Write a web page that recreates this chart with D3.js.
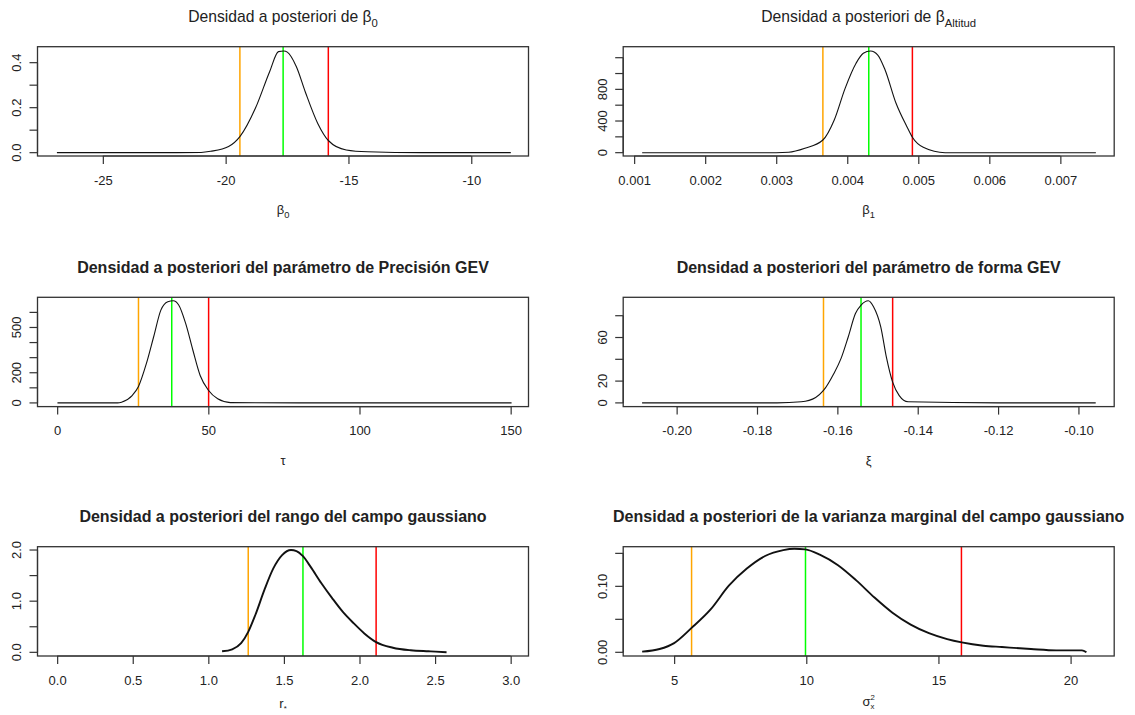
<!DOCTYPE html>
<html>
<head>
<meta charset="utf-8">
<script src="https://cdn.jsdelivr.net/npm/d3@7"></script>
<style>
  body { margin: 0; background: #fff; }
  text { font-family: "Liberation Sans", Arial, sans-serif; fill: #222; }
</style>
</head>
<body>
<div id="chart"></div>
<script>
// beta0
let b0X = [-26.87, -24, -22, -21, -20.61, -19.88, -19.42, -18.79, -18.21, -17.85, -17.63, -17.49, -17.12, -16.76, -16.25, -15.81, -15.09, -14.22, -12, -10, -8.39];
let b0Y = [0, 0, 0, 0.001, 0.006, 0.027, 0.071, 0.197, 0.36, 0.449, 0.452, 0.447, 0.382, 0.271, 0.13, 0.053, 0.012, 0.004, 0, 0, 0];
let b0Lines = [-19.42, -17.66, -15.82];

// beta altitud
let b1X = [0.001113, 0.002, 0.003, 0.003175, 0.003404, 0.003657, 0.003817, 0.00397, 0.004124, 0.004226, 0.004328, 0.00443, 0.004533, 0.004687, 0.00484, 0.004917, 0.00507, 0.005378, 0.006, 0.0075];
let b1Y = [0, 0, 0, 5, 56, 160, 413, 813, 1130, 1256, 1285, 1234, 1045, 624, 328, 195, 68, 0, 0, 0];
let b1Lines = [0.003657, 0.004303, 0.004917];

// precision GEV (tau)
let tauX = [0.1, 10, 20, 21.3, 24.8, 26.9, 29.5, 31.9, 34.3, 36.6, 38.4, 40.2, 42.5, 44.9, 47.3, 50.1, 53.1, 57.3, 80, 120, 150.3];
let tauY = [0, 0, 0, 5, 49, 109, 260, 437, 615, 671, 677, 649, 527, 349, 182, 82, 27, 2, 0, 0, 0];
let tauLines = [26.9, 37.9, 50.1];

// forma GEV (xi)
let xiX = [-0.2086, -0.19, -0.175, -0.169, -0.1654, -0.16345, -0.1609, -0.1591, -0.1573, -0.1555, -0.1541, -0.1523, -0.151, -0.1492, -0.1478, -0.14624, -0.1446, -0.1424, -0.12, -0.0957];
let xiY = [0, 0, 0, 1, 5, 11.4, 26.8, 40.6, 60.5, 82, 89.8, 93.8, 88.3, 69.8, 42, 19, 6.7, 1, 0, 0];
let xiLines = [-0.16345, -0.15411, -0.14624];

// rango
let rX = [1.091, 1.158, 1.217, 1.264, 1.311, 1.371, 1.43, 1.488, 1.547, 1.583, 1.626, 1.677, 1.748, 1.819, 1.89, 1.961, 2.032, 2.11, 2.221, 2.339, 2.457, 2.504, 2.576];
let rY = [0.02, 0.06, 0.18, 0.40, 0.73, 1.22, 1.64, 1.90, 2.0, 1.98, 1.88, 1.67, 1.35, 1.06, 0.79, 0.57, 0.37, 0.20, 0.09, 0.04, 0.02, 0.013, 0];
let rLines = [1.264, 1.626, 2.110];

// varianza marginal
let sX = [3.79, 4.45, 5.0, 5.66, 6.38, 7.07, 7.75, 8.44, 9.13, 9.55, 9.96, 10.51, 11.2, 11.89, 12.58, 13.26, 13.95, 14.64, 15.33, 15.88, 16.7, 17.4, 18.5, 19.46, 20.43, 20.6];
let sY = [0.001, 0.005, 0.014, 0.037, 0.065, 0.101, 0.127, 0.146, 0.155, 0.157, 0.156, 0.148, 0.132, 0.109, 0.083, 0.060, 0.042, 0.029, 0.020, 0.015, 0.010, 0.008, 0.005, 0.003, 0.003, 0.0];
let sLines = [5.66, 9.97, 15.87];

// ticks
let b0XTicks = [-25, -20, -15, -10];
let b0XLabels = ["-25", "-20", "-15", "-10"];
let b0YTicks = [0, 0.1, 0.2, 0.3, 0.4];
let b0YLabels = ["0.0", "", "0.2", "", "0.4"];

let b1XTicks = [0.001, 0.002, 0.003, 0.004, 0.005, 0.006, 0.007];
let b1XLabels = ["0.001", "0.002", "0.003", "0.004", "0.005", "0.006", "0.007"];
let b1YTicks = [0, 200, 400, 600, 800, 1000, 1200];
let b1YLabels = ["0", "", "400", "", "800", "", ""];

let tauXTicks = [0, 50, 100, 150];
let tauXLabels = ["0", "50", "100", "150"];
let tauYTicks = [0, 100, 200, 300, 400, 500, 600];
let tauYLabels = ["0", "", "200", "", "", "500", ""];

let xiXTicks = [-0.20, -0.18, -0.16, -0.14, -0.12, -0.10];
let xiXLabels = ["-0.20", "-0.18", "-0.16", "-0.14", "-0.12", "-0.10"];
let xiYTicks = [0, 20, 40, 60, 80];
let xiYLabels = ["0", "20", "", "60", ""];

let rXTicks = [0, 0.5, 1, 1.5, 2, 2.5, 3];
let rXLabels = ["0.0", "0.5", "1.0", "1.5", "2.0", "2.5", "3.0"];
let rYTicks = [0, 0.5, 1, 1.5, 2];
let rYLabels = ["0.0", "", "1.0", "", "2.0"];

let sXTicks = [5, 10, 15, 20];
let sXLabels = ["5", "10", "15", "20"];
let sYTicks = [0, 0.05, 0.10, 0.15];
let sYLabels = ["0.00", "", "0.10", ""];

let lineColors = ["#ffa500", "#00ff00", "#ff0000"];

let svgWidth = 1135;
let svgHeight = 715;
let colLeft = [37.5, 623.2];
let rowTop = [46.7, 297.3, 546.7];
let boxW = 491;
let boxH = 109.3;

let panels = [
  { x: b0X, y: b0Y, lines: b0Lines, xt: b0XTicks, xl: b0XLabels, yt: b0YTicks, yl: b0YLabels,
    xDom: [-27.66, -7.67], yDom: [-0.0148, 0.471], col: 0, row: 0, bold: false, lw: 1.1, labY: 58,
    title: [["Densidad a posteriori de β"], ["0", "sub"]], xlab: [["β"], ["0", "sub"]] },
  { x: b1X, y: b1Y, lines: b1Lines, xt: b1XTicks, xl: b1XLabels, yt: b1YTicks, yl: b1YLabels,
    xDom: [0.000846, 0.007758], yDom: [-42, 1339], col: 1, row: 0, bold: false, lw: 1.1, labY: 58,
    title: [["Densidad a posteriori de β"], ["Altitud", "sub"]], xlab: [["β"], ["1", "sub"]] },
  { x: tauX, y: tauY, lines: tauLines, xt: tauXTicks, xl: tauXLabels, yt: tauYTicks, yl: tauYLabels,
    xDom: [-6.5, 155.9], yDom: [-24.4, 700], col: 0, row: 1, bold: true, lw: 1.1, labY: 58,
    title: [["Densidad a posteriori del parámetro de Precisión GEV"]], xlab: [["τ"]] },
  { x: xiX, y: xiY, lines: xiLines, xt: xiXTicks, xl: xiXLabels, yt: xiYTicks, yl: xiYLabels,
    xDom: [-0.2133, -0.0911], yDom: [-3.4, 96.9], col: 1, row: 1, bold: true, lw: 1.1, labY: 58,
    title: [["Densidad a posteriori del parámetro de forma GEV"]], xlab: [["ξ"]] },
  { x: rX, y: rY, lines: rLines, xt: rXTicks, xl: rXLabels, yt: rYTicks, yl: rYLabels,
    xDom: [-0.13, 3.118], yDom: [-0.0717, 2.065], col: 0, row: 2, bold: true, lw: 1.9, labY: 52,
    title: [["Densidad a posteriori del rango del campo gaussiano"]], xlab: [["r"], ["*", "subsmall"]] },
  { x: sX, y: sY, lines: sLines, xt: sXTicks, xl: sXLabels, yt: sYTicks, yl: sYLabels,
    xDom: [3.073, 21.65], yDom: [-0.0056, 0.1601], col: 1, row: 2, bold: true, lw: 1.9, labY: 50,
    title: [["Densidad a posteriori de la varianza marginal del campo gaussiano"]], xlab: [["σ"], ["2", "sup"], ["x", "subunder"]] }
];

let svg = d3.select("#chart")
  .append("svg")
  .attr("width", svgWidth)
  .attr("height", svgHeight);

function richText(sel, parts, size) {
  parts.forEach(function(p) {
    let t = sel.append("tspan").text(p[0]);
    if (p[1] == "sub") {
      t.attr("font-size", size * 0.72).attr("dy", size * 0.3);
    } else if (p[1] == "subsmall") {
      t.attr("font-size", size * 0.6).attr("dy", size * 0.2);
    } else if (p[1] == "sup") {
      t.attr("font-size", size * 0.6).attr("dy", -size * 0.45);
    } else if (p[1] == "subunder") {
      t.attr("font-size", size * 0.6).attr("dx", -size * 0.34).attr("dy", size * 0.72);
    }
  });
}

panels.forEach(function(p) {
  let left = colLeft[p.col];
  let top = rowTop[p.row];
  let g = svg.append("g").attr("transform", `translate(${left}, ${top})`);

  let xScale = d3.scaleLinear().domain(p.xDom).range([0, boxW]);
  let yScale = d3.scaleLinear().domain(p.yDom).range([boxH, 0]);

  // vertical lines
  g.selectAll(".vline")
    .data(p.lines)
    .enter()
    .append("line")
    .attr("x1", d => xScale(d))
    .attr("x2", d => xScale(d))
    .attr("y1", 0)
    .attr("y2", boxH)
    .attr("stroke", (d, i) => lineColors[i])
    .attr("stroke-width", 1.5);

  // density curve
  let pts = p.x.map((v, i) => [v, p.y[i]]);
  let line = d3.line()
    .x(d => xScale(d[0]))
    .y(d => yScale(d[1]))
    .curve(d3.curveMonotoneX);
  g.append("path")
    .attr("d", line(pts))
    .attr("fill", "none")
    .attr("stroke", "#111")
    .attr("stroke-width", p.lw)
    .attr("stroke-linejoin", "round");

  // box
  g.append("rect")
    .attr("x", 0).attr("y", 0)
    .attr("width", boxW).attr("height", boxH)
    .attr("fill", "none")
    .attr("stroke", "#333")
    .attr("stroke-width", 1.3);

  // x axis
  let xAxis = g.append("g")
    .attr("transform", `translate(0, ${boxH})`)
    .call(d3.axisBottom(xScale).tickValues(p.xt).tickSize(8).tickFormat((d, i) => p.xl[i]));
  xAxis.select(".domain").remove();
  xAxis.selectAll("line").attr("stroke", "#333").attr("stroke-width", 1.2);
  xAxis.selectAll("text")
    .attr("y", 28.5).attr("dy", 0)
    .attr("font-size", 13)
    .attr("font-family", "Liberation Sans, Arial, sans-serif")
    .attr("fill", "#222");
  xAxis.append("line")
    .attr("x1", xScale(p.xt[0])).attr("x2", xScale(p.xt[p.xt.length - 1]))
    .attr("stroke", "#333").attr("stroke-width", 1.2);

  // y axis
  let yAxis = g.append("g");
  yAxis.append("line")
    .attr("x1", 0).attr("x2", 0)
    .attr("y1", yScale(p.yt[0])).attr("y2", yScale(p.yt[p.yt.length - 1]))
    .attr("stroke", "#333").attr("stroke-width", 1.2);
  yAxis.selectAll(".yt")
    .data(p.yt)
    .enter()
    .append("line")
    .attr("x1", 0).attr("x2", -8)
    .attr("y1", d => yScale(d)).attr("y2", d => yScale(d))
    .attr("stroke", "#333").attr("stroke-width", 1.2);
  yAxis.selectAll(".yl")
    .data(p.yt)
    .enter()
    .append("text")
    .attr("transform", d => `translate(-16.5, ${yScale(d)}) rotate(-90)`)
    .attr("text-anchor", "middle")
    .attr("font-size", 13)
    .text((d, i) => p.yl[i]);

  // title
  let tSize = p.bold ? 16 : 15.7;
  let title = g.append("text")
    .attr("x", boxW / 2)
    .attr("y", -24.5)
    .attr("text-anchor", "middle")
    .attr("font-size", tSize)
    .attr("font-weight", p.bold ? "bold" : "normal");
  richText(title, p.title, tSize);

  // x label
  let xlab = g.append("text")
    .attr("x", boxW / 2)
    .attr("y", boxH + p.labY)
    .attr("text-anchor", "middle")
    .attr("font-size", 13);
  richText(xlab, p.xlab, 13);
});
</script>
</body>
</html>
